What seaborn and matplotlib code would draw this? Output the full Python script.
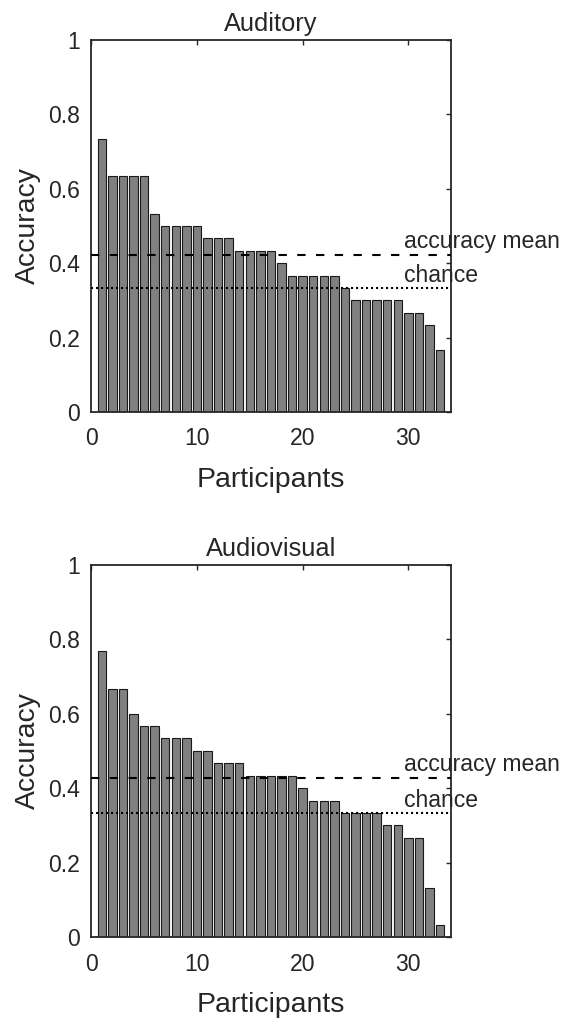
import numpy as np
import pandas as pd
import matplotlib
matplotlib.use("Agg")
import matplotlib.pyplot as plt
import seaborn as sns

# Per-participant accuracy, sorted in descending order
participants = list(range(1, 34))
auditory_acc = [0.7333, 0.6333, 0.6333, 0.6333, 0.6333, 0.5333, 0.5, 0.5, 0.5, 0.5,
                0.4667, 0.4667, 0.4667, 0.4333, 0.4333, 0.4333, 0.4333, 0.4, 0.3667,
                0.3667, 0.3667, 0.3667, 0.3667, 0.3333, 0.3, 0.3, 0.3, 0.3, 0.3,
                0.2667, 0.2667, 0.2333, 0.1667]
audiovisual_acc = [0.7667, 0.6667, 0.6667, 0.6, 0.5667, 0.5667, 0.5333, 0.5333, 0.5333,
                   0.5, 0.5, 0.4667, 0.4667, 0.4667, 0.4333, 0.4333, 0.4333, 0.4333,
                   0.4333, 0.4, 0.3667, 0.3667, 0.3667, 0.3333, 0.3333, 0.3333, 0.3333,
                   0.3, 0.3, 0.2667, 0.2667, 0.1333, 0.0333]
chance_level = 1 / 3
panel_titles = ["Auditory", "Audiovisual"]
x_ticks = [0, 10, 20, 30]
y_ticks = [0, 0.2, 0.4, 0.6, 0.8, 1]
y_tick_labels = ["0", "0.2", "0.4", "0.6", "0.8", "1"]

sns.set_style("white")
plt.rcParams["font.family"] = ["Liberation Sans", "DejaVu Sans"]

axis_color = "#262626"
bar_color = "#808080"

fig = plt.figure(figsize=(5.77, 10.21), dpi=100)
ax_top = fig.add_axes([0.158, 0.5963, 0.623, 0.3648])
ax_bot = fig.add_axes([0.158, 0.0820, 0.623, 0.3651])

for ax, title, acc in zip([ax_top, ax_bot], panel_titles, [auditory_acc, audiovisual_acc]):
    df = pd.DataFrame({"participant": participants, "accuracy": acc})
    sns.barplot(data=df, x="participant", y="accuracy", native_scale=True,
                color=bar_color, saturation=1, width=0.8,
                edgecolor="#1a1a1a", linewidth=0.8, ax=ax)
    mean_acc = float(np.mean(acc))
    ax.axhline(mean_acc, color="black", linestyle=(0, (4, 5)), linewidth=1.5, zorder=3)
    ax.axhline(chance_level, color="black", linestyle=(0, (1, 1.4)), linewidth=1.5, zorder=3)
    ax.text(29.6, mean_acc + 0.018, "accuracy mean", fontsize=16.6, color=axis_color,
            va="baseline", ha="left", zorder=2)
    ax.text(29.6, chance_level + 0.016, "chance", fontsize=16.6, color=axis_color,
            va="baseline", ha="left", zorder=2)

    ax.set_xlim(0, 34)
    ax.set_ylim(0, 1)
    ax.set_xticks(x_ticks)
    ax.set_xticklabels([str(t) for t in x_ticks])
    ax.set_yticks(y_ticks)
    ax.set_yticklabels(y_tick_labels)
    ax.tick_params(direction="in", length=3.5, width=1, colors=axis_color,
                   labelsize=16.6, top=True, right=True)
    ax.tick_params(axis="y", pad=8)
    ax.tick_params(axis="x", pad=11)
    for spine in ax.spines.values():
        spine.set_visible(True)
        spine.set_color(axis_color)
        spine.set_linewidth(1.3)
    ax.set_title(title, fontsize=18.3, color=axis_color, pad=6)
    ax.set_xlabel("Participants", fontsize=20.4, color=axis_color, labelpad=12)
    ax.set_ylabel("Accuracy", fontsize=20.4, color=axis_color, labelpad=5)

fig.savefig("out.png", dpi=100)
